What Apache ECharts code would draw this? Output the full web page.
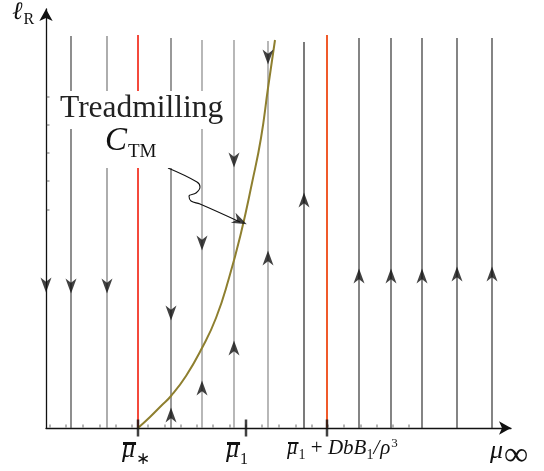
<!DOCTYPE html>
<html><head><meta charset="utf-8">
<script src="https://cdn.jsdelivr.net/npm/echarts@6/dist/echarts.min.js"></script>
<style>html,body{margin:0;padding:0;background:#fff}#c{width:544px;height:471px}</style>
</head><body><div id="c"></div>
<script>
// ---- data (x: mu_inf units, y: l_R units) ----
const flowX     = [25, 61, 125, 156, 188, 222, 258, 313, 345, 376, 411, 446];
const flowTop   = [392, 392, 390, 388, 388, 387, 386, 390, 390, 390, 390, 390];
const flowColor = ['#444', '#777', '#555', '#888', '#888', '#888', '#222', '#333', '#333', '#333', '#333', '#333'];
const redX      = [92, 281];
const redTop    = [393, 393];
const redColor  = ['#f44a3c', '#f05a2a'];
const downArrows = [[0, 143], [25, 142], [61, 142], [125, 115], [156, 185], [188, 268], [222, 371]];
const upArrows   = [[125, 13], [156, 40], [188, 80], [222, 170], [258, 228], [313, 152], [345, 152], [376, 152], [411, 154], [446, 154]];
const tmCurve = [[92, 0], [104, 11], [115, 22], [125, 32], [140, 52], [156, 80], [170, 110], [183, 150], [195, 195], [206, 245], [215, 290], [222, 340], [229, 388]];
const calloutPath = [[122, 260], [151, 246], [154, 241], [150, 235], [143, 232], [145, 227], [154, 224], [194, 206]];
const calloutHead = [194, 207];
const xMinorTicks = [4, 20, 37, 54, 70, 86, 102, 119, 135, 151, 167, 184, 200, 216, 233, 250, 266, 282, 298, 315, 331, 347, 363];
const yMinorTicks = [218, 247, 275, 303, 331];
const xMainTicks = [92, 200, 281];
const xTickLabels = ['μ̄*', 'μ̄1', 'μ̄1 + DbB1/ρ3'];
const titleLines = ['Treadmilling', 'C', 'TM'];

const chart = echarts.init(document.getElementById('c'));
const ARROW = 'path://M0,-7 L5,7 L0,3 L-5,7 Z';
const series = [];
flowX.forEach((x, i) => series.push({
  type: 'line', data: [[x, 0], [x, flowTop[i]]], symbol: 'none', silent: true,
  lineStyle: { color: flowColor[i], width: 1.2 }, z: 2
}));
redX.forEach((x, i) => series.push({
  type: 'line', data: [[x, 0], [x, redTop[i]]], symbol: 'none', silent: true,
  lineStyle: { color: redColor[i], width: 2 }, z: 2
}));
series.push({ type: 'line', data: tmCurve, smooth: true, symbol: 'none',
  lineStyle: { color: '#8e7f2f', width: 2 }, z: 3 });
series.push({ type: 'line', data: calloutPath, smooth: 0.4, symbol: 'none',
  lineStyle: { color: '#111', width: 1.1 }, z: 6 });
series.push({ type: 'scatter', data: downArrows, symbol: ARROW, symbolSize: [11, 15], symbolRotate: 180,
  itemStyle: { color: '#111' }, clip: false, z: 5 });
series.push({ type: 'scatter', data: upArrows, symbol: ARROW, symbolSize: [11, 15],
  itemStyle: { color: '#111' }, clip: false, z: 5 });
series.push({ type: 'scatter', data: [calloutHead], symbol: ARROW, symbolSize: [11, 15], symbolRotate: -115,
  itemStyle: { color: '#111' }, clip: false, z: 6 });
series.push({ type: 'scatter', data: xMinorTicks.map(v => [v, 0]), symbol: 'rect', symbolSize: [1, 3],
  symbolOffset: [0, -2], itemStyle: { color: '#444' }, clip: false, z: 4 });
series.push({ type: 'scatter', data: yMinorTicks.map(v => [0, v]), symbol: 'rect', symbolSize: [3, 1],
  symbolOffset: [2, 0], itemStyle: { color: '#444' }, clip: false, z: 4 });
series.push({ type: 'scatter', data: xMainTicks.map(v => [v, 0]), symbol: 'rect', symbolSize: [2.5, 17],
  itemStyle: { color: '#111' }, clip: false, z: 7 });

const axisCommon = {
  type: 'value', axisTick: { show: false }, axisLabel: { show: false }, splitLine: { show: false },
  axisLine: { show: true, symbol: ['none', 'arrow'], symbolSize: [10, 12], lineStyle: { color: '#111', width: 1.3 } }
};
chart.setOption({
  animation: false,
  grid: { left: 46, right: 33, top: 9, bottom: 43 },
  xAxis: Object.assign({}, axisCommon, { min: 0, max: 465 }),
  yAxis: Object.assign({}, axisCommon, { min: 0, max: 419 }),
  series: series
});

// ---- text layout ----
const cv = document.createElement('canvas').getContext('2d');
const SERIF = '"Liberation Serif", serif';
function fontOf(p) { return (p.it ? 'italic ' : '') + p.s + 'px ' + SERIF; }
function runText(parts, x0, els) {
  let x = x0;
  parts.forEach(p => {
    x += (p.dx || 0);
    cv.font = fontOf(p);
    const w = cv.measureText(p.t).width;
    els.push({ type: 'text', z: 100, style: { text: p.t, x: x, y: p.b - 0.34 * p.s, font: fontOf(p),
      fill: '#111', verticalAlign: 'middle', align: 'left' } });
    p.x = x; p.w = w;
    x += w;
  });
  return parts;
}
const px = v => chart.convertToPixel({ xAxisIndex: 0 }, v);
const els = [];
// title box
els.push({ type: 'text', z: 100, style: { text: titleLines[0], x: 57, y: 91, font: '31.5px ' + SERIF,
  fill: '#222', backgroundColor: '#fff', padding: [2, 3, 4, 3], verticalAlign: 'top', align: 'left' } });
els.push({ type: 'rect', z: 99, shape: { x: 88, y: 128, width: 97, height: 40 }, style: { fill: '#fff' } });
runText([{ t: titleLines[1], s: 33, it: true, b: 153 }, { t: titleLines[2], s: 19, b: 158, dx: 1 }], 105, els);
// axis names
runText([{ t: 'ℓ', s: 25, it: true, b: 21 }, { t: 'R', s: 16, b: 25, dx: 1 }], 12, els);
runText([{ t: 'μ', s: 26, it: true, b: 460 }, { t: '∞', s: 34, b: 468, dx: 1 }], 490, els);
// tick labels
const labelParts = [
  [{ t: 'μ', s: 26, it: true, b: 459 }, { t: '∗', s: 17, b: 465, dx: 1 }],
  [{ t: 'μ', s: 26, it: true, b: 459 }, { t: '1', s: 16, b: 465, dx: 1 }],
  [{ t: 'μ', s: 21, it: true, b: 456 }, { t: '1', s: 14, b: 460, dx: 1 }, { t: ' + ', s: 21, b: 456 },
   { t: 'DbB', s: 21, it: true, b: 456 }, { t: '1', s: 14, b: 460 }, { t: '/', s: 21, it: true, b: 456 },
   { t: 'ρ', s: 21, it: true, b: 456, dx: 1 }, { t: '3', s: 13, b: 448, dx: 1 }]
];
const labelDx = [-16, -20, -40];
const barH = [3, 3, 2];
xMainTicks.forEach((v, i) => {
  const parts = runText(labelParts[i], px(v) + labelDx[i], els);
  const m = parts[0];
  els.push({ type: 'rect', z: 100, shape: { x: m.x + 1, y: 442, width: m.w, height: barH[i] }, style: { fill: '#111' } });
});
chart.setOption({ graphic: els });
</script>
</body></html>
